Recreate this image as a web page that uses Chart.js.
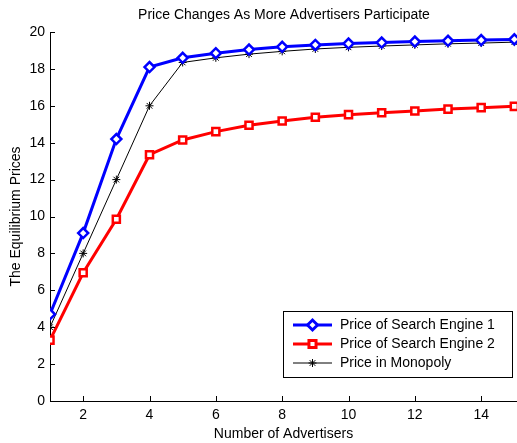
<!doctype html>
<html lang="en">
  <head>
    <script src="https://cdn.jsdelivr.net/npm/chart.js"></script>
    <style>
      body { margin: 0; background: #fff; }
      #wrap { width: 517px; height: 443px; }
    </style>
  </head>
  <body>
    <div id="wrap"><canvas id="myChart"></canvas></div>
    <script>
      // number of advertisers
      const advertisers = [1, 2, 3, 4, 5, 6, 7, 8, 9, 10, 11, 12, 13, 14, 15];
      const engine1 = [4.7, 9.1, 14.2, 18.1, 18.6, 18.85, 19.05, 19.2, 19.3, 19.37, 19.43, 19.48, 19.52, 19.56, 19.6];
      const engine2 = [3.3, 6.95, 9.85, 13.35, 14.15, 14.6, 14.95, 15.18, 15.38, 15.52, 15.62, 15.72, 15.82, 15.9, 15.97];
      const monopoly = [4.0, 8.0, 12.0, 16.0, 18.35, 18.6, 18.8, 18.95, 19.08, 19.17, 19.24, 19.3, 19.36, 19.4, 19.45];
      const xTicks = [2, 4, 6, 8, 10, 12, 14];
      const yTicks = [0, 2, 4, 6, 8, 10, 12, 14, 16, 18, 20];

      const FONT = 'Liberation Sans, Arial, Helvetica, sans-serif';

      function pts(ys) {
        return ys.map((y, i) => ({ x: advertisers[i], y: y }));
      }

      // matlab style inward ticks, title and legend box
      const matlabBits = {
        id: 'matlabBits',
        afterDraw(chart) {
          const ctx = chart.ctx;
          const a = chart.chartArea;
          const xs = chart.scales.x, ys = chart.scales.y;
          ctx.save();
          ctx.strokeStyle = '#000';
          ctx.lineWidth = 1;
          ctx.beginPath();
          xTicks.forEach(v => {
            const px = Math.round(xs.getPixelForValue(v)) + 0.5;
            ctx.moveTo(px, a.bottom);
            ctx.lineTo(px, a.bottom - 5);
          });
          yTicks.forEach(v => {
            const py = Math.round(ys.getPixelForValue(v)) + 0.5;
            ctx.moveTo(a.left, py);
            ctx.lineTo(a.left + 5, py);
          });
          ctx.stroke();

          // title
          ctx.fillStyle = '#000';
          ctx.font = '14px ' + FONT;
          ctx.textAlign = 'center';
          ctx.textBaseline = 'middle';
          ctx.fillText('Price Changes As More Advertisers Participate', 284, 15);

          // legend
          const bx = 283.5, by = 311.5, bw = 229, bh = 66;
          ctx.fillStyle = '#fff';
          ctx.fillRect(bx, by, bw, bh);
          ctx.strokeRect(bx, by, bw, bh);
          ctx.textAlign = 'left';
          chart.data.datasets.forEach((ds, i) => {
            const cy = 325 + i * 19;
            ctx.strokeStyle = ds.borderColor;
            ctx.lineWidth = ds.borderWidth;
            ctx.beginPath();
            ctx.moveTo(293, cy);
            ctx.lineTo(332, cy);
            ctx.stroke();
            ctx.fillStyle = ds.pointBackgroundColor || ds.borderColor;
            Chart.helpers.drawPoint(ctx, {
              pointStyle: ds.pointStyle,
              radius: ds.pointRadius,
              borderWidth: ds.pointBorderWidth,
              rotation: 0
            }, 312.5, cy);
            ctx.fillStyle = '#000';
            ctx.fillText(ds.label, 340, cy);
          });
          ctx.restore();
        }
      };

      const canvas = document.getElementById('myChart');
      const chart = new Chart(canvas, {
        type: 'line',
        data: {
          datasets: [
            {
              label: 'Price of Search Engine 1',
              data: pts(engine1),
              borderColor: '#0000ff',
              backgroundColor: '#ffffff',
              borderWidth: 3,
              pointStyle: 'rectRot',
              pointRadius: 5,
              pointBorderWidth: 2.5,
              pointBackgroundColor: '#ffffff'
            },
            {
              label: 'Price of Search Engine 2',
              data: pts(engine2),
              borderColor: '#ff0000',
              backgroundColor: '#ffffff',
              borderWidth: 3,
              pointStyle: 'rect',
              pointRadius: 5,
              pointBorderWidth: 2.5,
              pointBackgroundColor: '#ffffff'
            },
            {
              label: 'Price in Monopoly',
              data: pts(monopoly),
              borderColor: '#000000',
              backgroundColor: '#000000',
              borderWidth: 1,
              pointStyle: 'star',
              pointRadius: 4,
              pointBorderWidth: 1
            }
          ]
        },
        options: {
          responsive: true,
          maintainAspectRatio: false,
          animation: false,
          layout: {
            autoPadding: false,
            padding: { top: 32, right: 0, left: 0, bottom: 0 }
          },
          plugins: {
            legend: { display: false },
            title: { display: false },
            tooltip: { enabled: false }
          },
          scales: {
            x: {
              type: 'linear',
              min: 1,
              max: 15.08,
              afterBuildTicks: s => { s.ticks = xTicks.map(v => ({ value: v })); },
              afterFit: s => { s.height = 42; },
              grid: { display: false, drawTicks: false },
              border: { display: true, color: '#000', width: 1 },
              ticks: { color: '#000', font: { family: FONT, size: 14 }, padding: 6, maxRotation: 0 },
              title: { display: true, text: 'Number of Advertisers', color: '#000', font: { family: FONT, size: 14 }, padding: 0 }
            },
            y: {
              min: 0,
              max: 20,
              afterBuildTicks: s => { s.ticks = yTicks.map(v => ({ value: v })); },
              afterFit: s => { s.width = 50; },
              grid: { display: false, drawTicks: false },
              border: { display: true, color: '#000', width: 1 },
              ticks: { color: '#000', font: { family: FONT, size: 14 }, padding: 5 },
              title: { display: true, text: 'The Equilibrium Prices', color: '#000', font: { family: FONT, size: 14 }, padding: { top: 8, bottom: 0 } }
            }
          }
        },
        plugins: [matlabBits]
      });
    </script>
  </body>
</html>
